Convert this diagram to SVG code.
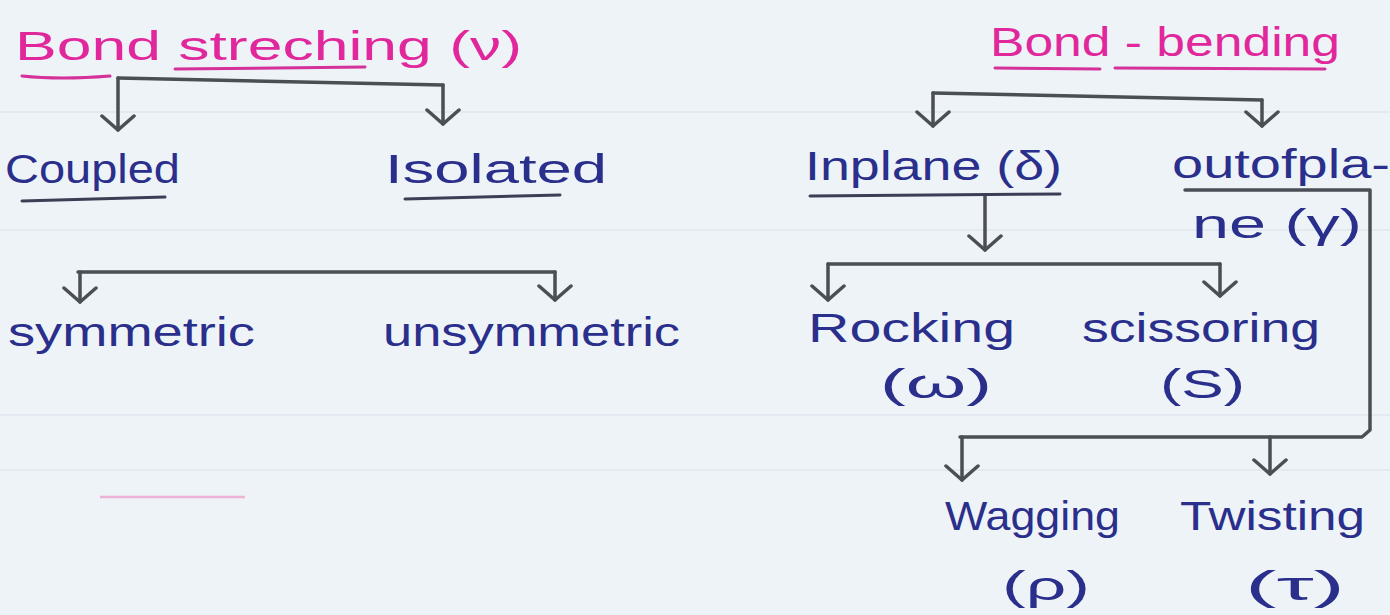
<svg xmlns="http://www.w3.org/2000/svg" width="1390" height="615" viewBox="0 0 1390 615">
<defs>
<style>
.bg{fill:#eef3f8}
.rule{stroke:#e3e9f0;stroke-width:2}
.ink{font-family:"Liberation Sans",Arial,sans-serif;font-size:40px;fill:#2a2f8c}
.pink{font-family:"Liberation Sans",Arial,sans-serif;font-size:40px;fill:#e0289c}
.ul{stroke:#3a3f55;stroke-width:3;fill:none;stroke-linecap:round}
.pul{stroke:#d6309a;stroke-width:3;fill:none;stroke-linecap:round}
.con{stroke:#4a4e55;stroke-width:3.5;fill:none;stroke-linecap:round;stroke-linejoin:round}
</style>
<marker id="chev" viewBox="0 0 36 20" refX="18" refY="18" markerWidth="36" markerHeight="20" markerUnits="userSpaceOnUse" orient="0">
<path d="M2,4 L18,18 L34,4" fill="none" stroke="#4a4e55" stroke-width="3.5" stroke-linecap="round" stroke-linejoin="round"/>
</marker>
</defs>
<rect class="bg" x="0" y="0" width="1390" height="615"/>
<g id="paper">
<line class="rule" x1="0" y1="112" x2="1390" y2="112"/>
<line class="rule" x1="0" y1="230" x2="1390" y2="230"/>
<line class="rule" x1="0" y1="415" x2="1390" y2="415"/>
<line class="rule" x1="0" y1="470" x2="1390" y2="470"/>
<line x1="100" y1="497" x2="245" y2="497" stroke="#ecb3d6" stroke-width="2.5"/>
</g>
<g id="connectors">
<path class="con" d="M118,78 L443,85"/>
<path class="con" d="M118,78 L118,130" marker-end="url(#chev)"/>
<path class="con" d="M443,85 L443,124" marker-end="url(#chev)"/>
<path class="con" d="M78,272 L555,272"/>
<path class="con" d="M80,272 L80,302" marker-end="url(#chev)"/>
<path class="con" d="M555,272 L555,300" marker-end="url(#chev)"/>
<path class="con" d="M933,93 L1262,100"/>
<path class="con" d="M933,93 L933,126" marker-end="url(#chev)"/>
<path class="con" d="M1262,100 L1262,126" marker-end="url(#chev)"/>
<path class="con" d="M985,196 L985,250" marker-end="url(#chev)"/>
<path class="con" d="M828,264 L1220,264"/>
<path class="con" d="M828,264 L828,300" marker-end="url(#chev)"/>
<path class="con" d="M1220,264 L1220,296" marker-end="url(#chev)"/>
<path class="con" d="M1185,190 L1370,190 L1370,430 L1362,437 L960,437"/>
<path class="con" d="M962,437 L962,480" marker-end="url(#chev)"/>
<path class="con" d="M1270,437 L1270,474" marker-end="url(#chev)"/>
</g>
<g id="bond-stretching">
<text class="pink" x="15" y="60" textLength="507" lengthAdjust="spacingAndGlyphs">Bond streching (ν)</text>
<path class="pul" d="M22,76 Q60,80 110,76"/>
<path class="pul" d="M175,69 L365,67"/>
</g>
<g id="coupled">
<text class="ink" x="5" y="183" textLength="175" lengthAdjust="spacingAndGlyphs">Coupled</text>
<path class="ul" d="M22,201 L165,197"/>
</g>
<g id="isolated">
<text class="ink" x="385" y="183" textLength="222" lengthAdjust="spacingAndGlyphs">Isolated</text>
<path class="ul" d="M405,199 L560,195"/>
</g>
<g id="symmetric">
<text class="ink" x="8" y="346" textLength="247" lengthAdjust="spacingAndGlyphs">symmetric</text>
</g>
<g id="unsymmetric">
<text class="ink" x="383" y="346" textLength="297" lengthAdjust="spacingAndGlyphs">unsymmetric</text>
</g>
<g id="bond-bending">
<text class="pink" x="990" y="56" textLength="350" lengthAdjust="spacingAndGlyphs">Bond - bending</text>
<path class="pul" d="M995,68 L1100,69"/>
<path class="pul" d="M1115,68 L1325,69"/>
</g>
<g id="inplane">
<text class="ink" x="805" y="180" textLength="257" lengthAdjust="spacingAndGlyphs">Inplane (δ)</text>
<path class="ul" d="M810,196 L1060,194"/>
</g>
<g id="out-of-plane">
<text class="ink" x="1172" y="178" textLength="218" lengthAdjust="spacingAndGlyphs">outofpla-</text>
<text class="ink" x="1192" y="238" textLength="170" lengthAdjust="spacingAndGlyphs">ne (γ)</text>
</g>
<g id="rocking">
<text class="ink" x="808" y="342" textLength="207" lengthAdjust="spacingAndGlyphs">Rocking</text>
<text class="ink" x="880" y="398" textLength="112" lengthAdjust="spacingAndGlyphs">(ω)</text>
</g>
<g id="scissoring">
<text class="ink" x="1082" y="342" textLength="238" lengthAdjust="spacingAndGlyphs">scissoring</text>
<text class="ink" x="1160" y="398" textLength="85" lengthAdjust="spacingAndGlyphs">(S)</text>
</g>
<g id="wagging">
<text class="ink" x="945" y="530" textLength="175" lengthAdjust="spacingAndGlyphs">Wagging</text>
<text class="ink" x="1002" y="600" textLength="88" lengthAdjust="spacingAndGlyphs">(ρ)</text>
</g>
<g id="twisting">
<text class="ink" x="1180" y="530" textLength="185" lengthAdjust="spacingAndGlyphs">Twisting</text>
<text class="ink" x="1245" y="600" textLength="100" lengthAdjust="spacingAndGlyphs">(τ)</text>
</g>
</svg>
